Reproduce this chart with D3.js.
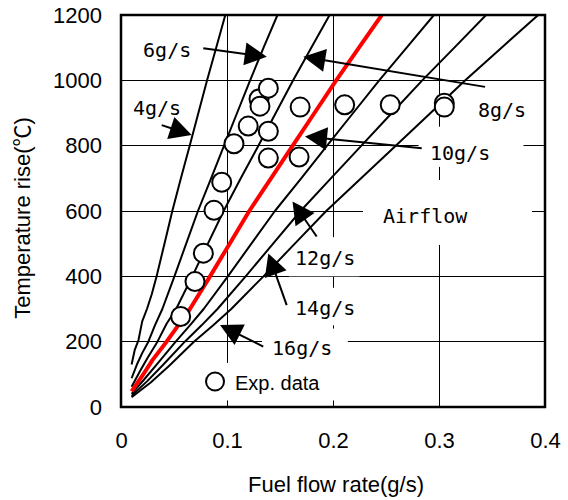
<!DOCTYPE html>
<html>
  <head>
    <meta charset="utf-8">
    <title>Temperature rise vs fuel flow rate</title>
    <script src="https://d3js.org/d3.v7.min.js"></script>
    <style>
      body { margin: 0; background: #fff; }
      .grid { stroke: #000; stroke-width: 1; shape-rendering: crispEdges; }
      .curve { fill: none; stroke: #000; stroke-width: 2; stroke-linejoin: round; }
      .curve.red { stroke: #f00; stroke-width: 4; }
      .exp { fill: #fff; stroke: #000; stroke-width: 2; }
      .lbl { font-family: "DejaVu Sans Mono", monospace; font-size: 20px; fill: #000; }
      .tick text { font-family: "Liberation Sans", Arial, sans-serif; font-size: 22px; fill: #000; }
      .title { font-family: "Liberation Sans", "Noto Sans CJK JP", sans-serif; font-size: 22px; fill: #000; }
    </style>
  </head>
  <body>
    <div id="chart"></div>
    <script>

      // tick values
      var xTicks = [0, 0.1, 0.2, 0.3, 0.4],
        yTicks = [0, 200, 400, 600, 800, 1000, 1200];

      // calculated curves, [fuel flow g/s, temperature rise C], one per airflow
      var curve4 = [[0.0100,130],[0.0130,175],[0.0165,205],[0.0200,262],[0.0245,300],[0.0290,345],[0.0336,400],[0.0410,500],[0.0484,600],[0.0565,700],[0.0648,800],[0.0730,900],[0.0812,1000],[0.0898,1100],[0.0984,1200]];
      var curve6 = [[0.0100,88],[0.0150,130],[0.0200,165],[0.0258,200],[0.0320,250],[0.0390,300],[0.0504,400],[0.0615,500],[0.0726,600],[0.0850,700],[0.0972,800],[0.1095,900],[0.1218,1000],[0.1345,1100],[0.1476,1200]];
      var curve8 = [[0.0100,62],[0.0180,110],[0.0250,150],[0.0344,200],[0.0430,255],[0.0520,300],[0.0672,400],[0.0820,500],[0.0968,600],[0.1130,700],[0.1296,800],[0.1460,900],[0.1624,1000],[0.1795,1100],[0.1968,1200]];
      var curve10 = [[0.0100,48],[0.0200,95],[0.0300,145],[0.0430,200],[0.0540,250],[0.0650,300],[0.0840,400],[0.1025,500],[0.1210,600],[0.1415,700],[0.1620,800],[0.1825,900],[0.2030,1000],[0.2245,1100],[0.2460,1200]];
      var curve12 = [[0.0100,40],[0.0220,85],[0.0350,135],[0.0516,200],[0.0650,250],[0.0780,300],[0.1008,400],[0.1230,500],[0.1452,600],[0.1700,700],[0.1944,800],[0.2190,900],[0.2436,1000],[0.2695,1100],[0.2952,1200]];
      var curve14 = [[0.0100,34],[0.0250,80],[0.0400,130],[0.0602,200],[0.0760,250],[0.0910,300],[0.1176,400],[0.1435,500],[0.1694,600],[0.1980,700],[0.2268,800],[0.2555,900],[0.2842,1000],[0.3145,1100],[0.3444,1200]];
      var curve16 = [[0.0100,30],[0.0280,75],[0.0450,125],[0.0688,200],[0.0870,250],[0.1040,300],[0.1344,400],[0.1640,500],[0.1936,600],[0.2265,700],[0.2592,800],[0.2920,900],[0.3248,1000],[0.3590,1100],[0.3936,1200]];

      // experimental data
      var expFlow = [0.0563, 0.0698, 0.0777, 0.0877, 0.0950, 0.1066, 0.1200, 0.1302, 0.1311, 0.1390, 0.1390, 0.1390, 0.1690, 0.1680, 0.2110, 0.2540, 0.3050, 0.3050],
        expTemp = [277, 384, 471, 602, 688, 806, 860, 943, 921, 976, 844, 762, 918, 765, 925, 925, 930, 918];

      var width = 568,
        height = 500;

      var x = d3.scaleLinear().domain([0, 0.4]).range([121, 545]);
      var y = d3.scaleLinear().domain([0, 1200]).range([407, 15]);

      var svg = d3.select("#chart")
        .append("svg")
          .attr("width", width)
          .attr("height", height);

      svg.append("clipPath").attr("id", "plot")
        .append("rect")
          .attr("x", x(0)).attr("y", y(1200))
          .attr("width", x(0.4) - x(0)).attr("height", y(0) - y(1200));

      // grid
      svg.append("g").selectAll("line")
        .data(xTicks.slice(1, -1))
        .enter().append("line")
          .attr("class", "grid")
          .attr("x1", (d) => x(d)).attr("x2", (d) => x(d))
          .attr("y1", y(0)).attr("y2", y(1200));
      svg.append("g").selectAll("line")
        .data(yTicks.slice(1, -1))
        .enter().append("line")
          .attr("class", "grid")
          .attr("x1", x(0)).attr("x2", x(0.4))
          .attr("y1", (d) => y(d)).attr("y2", (d) => y(d));

      // white boxes behind the labels (they hide the grid, not the curves)
      // [flow0, flow1, temp0, temp1]
      var boxes = [
        [0.2807, 0.3797, 735, 858],   // 10g/s
        [0.2283, 0.3877, 496, 695],   // Airflow
        [0.1585, 0.2250, 400, 520],   // 12g/s
        [0.1585, 0.2250, 250, 365],   // 14g/s
        [0.1330, 0.2140, 130, 240],   // 16g/s
        [0.0750, 0.2100, 20, 135]     // legend
      ];
      svg.append("g").selectAll("rect")
        .data(boxes)
        .enter().append("rect")
          .attr("x", (d) => x(d[0]))
          .attr("width", (d) => x(d[1]) - x(d[0]))
          .attr("y", (d) => y(d[3]))
          .attr("height", (d) => y(d[2]) - y(d[3]))
          .attr("fill", "#fff");

      var line = d3.line()
        .x((d) => x(d[0]))
        .y((d) => y(d[1]));

      var curves = [curve4, curve6, curve8, curve12, curve14, curve16];
      var g = svg.append("g").attr("clip-path", "url(#plot)");
      g.selectAll("path.black")
        .data(curves)
        .enter().append("path")
          .attr("class", "curve")
          .attr("d", line);
      g.append("path")
        .datum(curve10)
        .attr("class", "curve red")
        .attr("d", line);

      // experimental points
      svg.append("g").selectAll("circle")
        .data(expFlow)
        .enter().append("circle")
          .attr("class", "exp")
          .attr("cx", (d) => x(d))
          .attr("cy", (d, i) => y(expTemp[i]))
          .attr("r", 9.5);

      // labels with arrows: text position, arrow start, arrow tip (flow, temp)
      var labels = [
        {text: "4g/s", at: [0.0113, 894], from: [0.0384, 863], to: [0.0667, 833]},
        {text: "6g/s", at: [0.0208, 1071], from: [0.0776, 1098], to: [0.1375, 1072]},
        {text: "8g/s", at: [0.3368, 888], from: [0.3434, 980], to: [0.1720, 1072]},
        {text: "10g/s", at: [0.2915, 756], from: [0.2837, 792], to: [0.1736, 828]},
        {text: "12g/s", at: [0.1642, 435], from: [0.1846, 522], to: [0.1618, 629]},
        {text: "14g/s", at: [0.1642, 282], from: [0.1563, 312], to: [0.1390, 470]},
        {text: "16g/s", at: [0.1425, 159], from: [0.1342, 185], to: [0.0934, 251]}
      ];

      var headLen = 22, headW = 23;
      var ann = svg.append("g");
      labels.forEach((l) => {
        var x1 = x(l.from[0]), y1 = y(l.from[1]),
          x2 = x(l.to[0]), y2 = y(l.to[1]);
        var len = Math.hypot(x2 - x1, y2 - y1),
          ux = (x2 - x1) / len, uy = (y2 - y1) / len;
        var bx = x2 - ux * headLen, by = y2 - uy * headLen;
        ann.append("line")
          .attr("x1", x1).attr("y1", y1)
          .attr("x2", bx + ux * 2).attr("y2", by + uy * 2)
          .attr("stroke", "#000").attr("stroke-width", 2);
        ann.append("path")
          .attr("d", "M" + x2 + "," + y2 +
            "L" + (bx - uy * headW / 2) + "," + (by + ux * headW / 2) +
            "L" + (bx + uy * headW / 2) + "," + (by - ux * headW / 2) + "Z")
          .attr("fill", "#000");
        ann.append("text")
          .attr("class", "lbl")
          .attr("x", x(l.at[0]))
          .attr("y", y(l.at[1]))
          .text(l.text);
      });

      ann.append("text")
        .attr("class", "lbl")
        .attr("x", x(0.2472))
        .attr("y", y(563))
        .text("Airflow");

      // legend
      svg.append("circle")
        .attr("class", "exp")
        .attr("cx", x(0.0887)).attr("cy", y(78))
        .attr("r", 9);
      svg.append("text")
        .attr("class", "title")
        .attr("x", x(0.1075)).attr("y", y(52))
        .style("font-size", "20px")
        .text("Exp. data");

      // frame
      svg.append("rect")
        .attr("x", x(0)).attr("y", y(1200))
        .attr("width", x(0.4) - x(0)).attr("height", y(0) - y(1200))
        .attr("fill", "none")
        .attr("stroke", "#000")
        .attr("stroke-width", 2.5);

      // axes (labels only)
      svg.append("g")
        .attr("transform", "translate(" + x(0) + ",0)")
        .call(d3.axisLeft(y).tickValues(yTicks).tickSize(0).tickPadding(19).tickFormat(d3.format("d")))
        .call((a) => a.select(".domain").remove());
      svg.append("g")
        .attr("transform", "translate(0," + y(0) + ")")
        .call(d3.axisBottom(x).tickValues(xTicks).tickSize(0).tickPadding(25).tickFormat((d) => d === 0 ? "0" : d3.format(".1f")(d)))
        .call((a) => a.select(".domain").remove());

      svg.append("text")
        .attr("class", "title")
        .attr("transform", "translate(30,218) rotate(-90)")
        .attr("text-anchor", "middle")
        .text("Temperature rise(℃)");

      svg.append("text")
        .attr("class", "title")
        .attr("x", 336)
        .attr("y", 492)
        .attr("text-anchor", "middle")
        .text("Fuel flow rate(g/s)");

    </script>
  </body>
</html>
